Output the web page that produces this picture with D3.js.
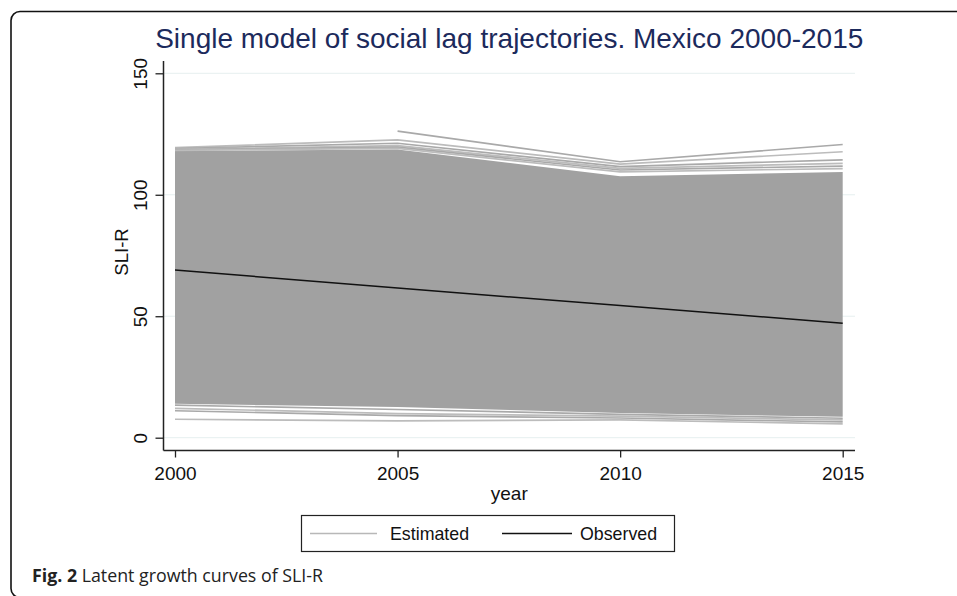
<!DOCTYPE html>
<html>
<head>
<meta charset="utf-8">
<script src="https://cdn.jsdelivr.net/npm/d3@7"></script>
<style>
  html, body { margin: 0; padding: 0; background: #fff; }
  svg { display: block; }
</style>
</head>
<body>
<svg id="chart" width="957" height="596"></svg>
<script>
// Survey waves
const years = [2000, 2005, 2010, 2015];
const yTicks = [0, 50, 100, 150];

// Observed mean SLI-R per wave
const observed = [69.0, 61.6, 54.4, 47.1];

// Envelope of the dense bundle of estimated municipal trajectories
const denseUpper = [118.0, 118.6, 107.6, 109.4];
const denseLower = [14.0, 12.6, 10.2, 8.6];

// Sparse estimated trajectories lying above the dense bundle
const upperTrajectories = [
  [null, 126.2, 113.6, 120.7],
  [119.4, 122.6, 112.6, 117.7],
  [119.0, 121.2, 111.6, 114.4],
  [118.7, 120.2, 110.9, 112.9],
  [118.5, 119.6, 110.2, 111.8],
  [118.3, 119.1, 109.4, 110.8]
];

// Sparse estimated trajectories lying below the dense bundle
const lowerTrajectories = [
  [13.4, 11.6, 9.6, 8.0],
  [12.1, 9.9, 8.9, 7.3],
  [11.1, 9.1, 8.1, 6.5],
  [7.6, 6.9, 7.3, 5.7]
];

const titleText = "Single model of social lag trajectories. Mexico 2000-2015";
const yLabel = "SLI-R";
const xLabel = "year";
const legendLabels = ["Estimated", "Observed"];

const svg = d3.select("#chart");
const font = "'Liberation Sans', Arial, sans-serif";

// Outer rounded frame of the figure panel
svg.append("rect")
  .attr("x", 11).attr("y", 11.5)
  .attr("width", 970).attr("height", 586)
  .attr("rx", 9).attr("ry", 9)
  .attr("fill", "none").attr("stroke", "#111").attr("stroke-width", 1.6);

const x = d3.scaleLinear().domain([2000, 2015]).range([175, 842.7]);
const y = d3.scaleLinear().domain([0, 150]).range([437.7, 73.3]);

const plotLeft = 163.5, plotRight = 855, axisY = 450.5;

// Horizontal grid lines
svg.append("g").selectAll("line").data(yTicks).join("line")
  .attr("x1", plotLeft).attr("x2", plotRight)
  .attr("y1", d => y(d)).attr("y2", d => y(d))
  .attr("stroke", "#e6efef").attr("stroke-width", 1);

// Dense bundle of estimated trajectories
const bandData = years.map((yr, i) => ({ yr, lo: denseLower[i], hi: denseUpper[i] }));
svg.append("path")
  .datum(bandData)
  .attr("d", d3.area().x(d => x(d.yr)).y0(d => y(d.lo)).y1(d => y(d.hi)))
  .attr("fill", "#a1a1a1");

// Sparse estimated trajectories at the edges
const line = d3.line()
  .defined(d => d.v != null)
  .x(d => x(d.yr)).y(d => y(d.v));
const sparse = upperTrajectories.concat(lowerTrajectories)
  .map(arr => years.map((yr, i) => ({ yr, v: arr[i] })));
svg.append("g").selectAll("path").data(sparse).join("path")
  .attr("d", line)
  .attr("fill", "none")
  .attr("stroke", (d, i) => (i % 2 ? "#bcbcbc" : "#a9a9a9"))
  .attr("stroke-width", 1.7);

// Observed trajectory
svg.append("path")
  .datum(years.map((yr, i) => ({ yr, v: observed[i] })))
  .attr("d", line)
  .attr("fill", "none")
  .attr("stroke", "#111")
  .attr("stroke-width", 1.5);

// Y axis
const yAxis = d3.axisLeft(y).tickValues(yTicks).tickSize(8).tickPadding(10).tickFormat(d3.format("d"));
const gy = svg.append("g").attr("transform", `translate(${plotLeft},0)`).call(yAxis);
gy.select(".domain").attr("d", `M0,61V${axisY}`).attr("stroke", "#222").attr("stroke-width", 1.5);
gy.selectAll(".tick line").attr("stroke", "#222").attr("stroke-width", 1.3);
gy.selectAll(".tick text")
  .attr("font-family", font).attr("font-size", 19).attr("fill", "#111")
  .attr("transform", "rotate(-90)")
  .attr("x", 0).attr("y", -17)
  .attr("dy", 0)
  .attr("text-anchor", "middle");

// X axis
const xAxis = d3.axisBottom(x).tickValues(years).tickSize(7).tickPadding(9).tickFormat(d3.format("d"));
const gx = svg.append("g").attr("transform", `translate(0,${axisY})`).call(xAxis);
gx.select(".domain").attr("d", `M${plotLeft},0H${plotRight}`).attr("stroke", "#222").attr("stroke-width", 1.5);
gx.selectAll(".tick line").attr("stroke", "#222").attr("stroke-width", 1.3);
gx.selectAll(".tick text")
  .attr("font-family", font).attr("font-size", 19).attr("fill", "#111");

// Axis titles
svg.append("text")
  .attr("transform", "translate(128,252) rotate(-90)")
  .attr("text-anchor", "middle")
  .attr("font-family", font).attr("font-size", 18.5).attr("fill", "#111")
  .text(yLabel);
svg.append("text")
  .attr("x", (plotLeft + plotRight) / 2).attr("y", 500)
  .attr("text-anchor", "middle")
  .attr("font-family", font).attr("font-size", 19).attr("fill", "#111")
  .text(xLabel);

// Title
svg.append("text")
  .attr("x", (plotLeft + plotRight) / 2).attr("y", 48)
  .attr("text-anchor", "middle")
  .attr("font-family", font).attr("font-size", 28).attr("fill", "#1c2a5c")
  .text(titleText);

// Legend
const lg = svg.append("g");
lg.append("rect")
  .attr("x", 301.5).attr("y", 515.5).attr("width", 373).attr("height", 36)
  .attr("fill", "#fff").attr("stroke", "#222").attr("stroke-width", 1.2);
const legendItems = [
  { label: legendLabels[0], color: "#b8b8b8", x1: 310, x2: 377, tx: 390 },
  { label: legendLabels[1], color: "#111", x1: 502, x2: 572, tx: 580 }
];
legendItems.forEach(it => {
  lg.append("line")
    .attr("x1", it.x1).attr("x2", it.x2).attr("y1", 533.5).attr("y2", 533.5)
    .attr("stroke", it.color).attr("stroke-width", 1.5);
  lg.append("text")
    .attr("x", it.tx).attr("y", 540)
    .attr("font-family", font).attr("font-size", 17.8).attr("fill", "#111")
    .text(it.label);
});

// Figure caption
const cap = svg.append("text")
  .attr("x", 32).attr("y", 582)
  .attr("font-family", "'Open Sans', sans-serif").attr("font-size", 17.8).attr("fill", "#222");
cap.append("tspan").attr("font-weight", "bold").text("Fig. 2");
cap.append("tspan").text(" Latent growth curves of SLI-R");
</script>
</body>
</html>
